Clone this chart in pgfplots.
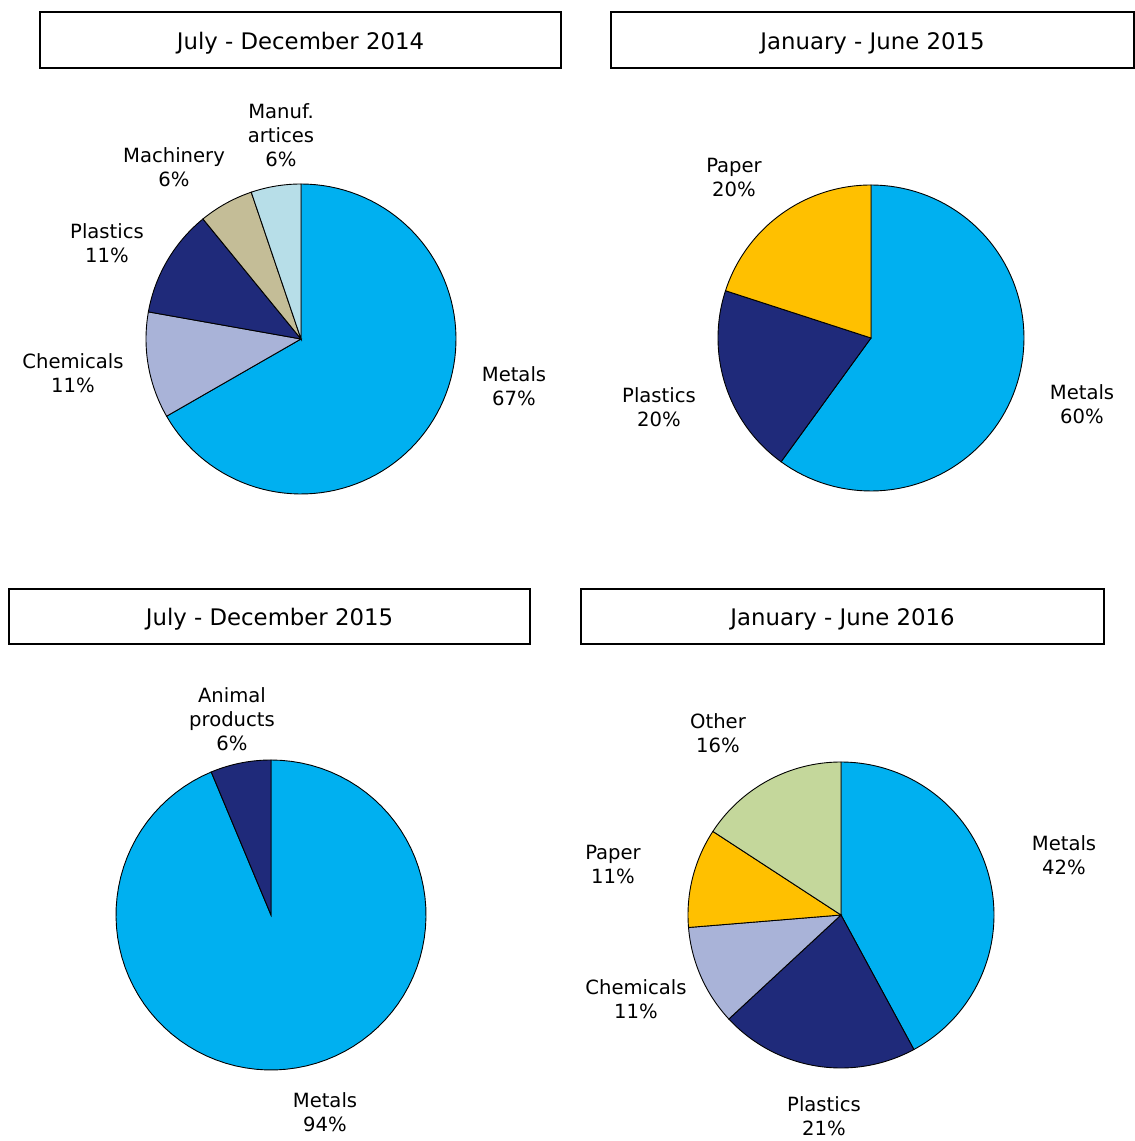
\documentclass[border=0pt]{standalone}
\usepackage{pgfplots}
\pgfplotsset{compat=1.18}
\usepackage{fontspec}
\setmainfont{DejaVu Sans}

\definecolor{metals}{HTML}{00B0F0}
\definecolor{chem}{HTML}{A9B3D8}
\definecolor{plast}{HTML}{1F2A7A}
\definecolor{machin}{HTML}{C4BD97}
\definecolor{manuf}{HTML}{B7DEE8}
\definecolor{paper}{HTML}{FFC000}
\definecolor{other}{HTML}{C4D79B}

\tikzset{lab/.style={font=\fontsize{9.8}{12}\selectfont, align=center}}

% slice of a pie: centre x, centre y, radius, from %, to % (cumulative), colour
% runs clockwise from 12 o'clock
\newcommand{\pieslice}[6]{%
  \addplot[fill=#6, draw=black, line width=0.45pt, domain=#4:#5, samples=90, variable=\t]
    ({#1+#3*cos(90-3.6*\t)},{#2+#3*sin(90-3.6*\t)}) -- (#1,#2) -- cycle;}

\newcommand{\titlebox}[5]{%
  \draw[line width=0.7pt] (#1,#2) rectangle (#3,#4);
  \node[font=\fontsize{11.4}{13}\selectfont] at ({(#1+#3)/2},{(#2+#4)/2-3}) {#5};}

\begin{document}
\begin{tikzpicture}
\begin{axis}[
    scale only axis, width=567.5pt, height=570.5pt,
    xmin=0, xmax=1135, ymin=0, ymax=1141,
    hide axis, clip=false,
  ]
  % July - December 2014
  \pieslice{301}{802}{155}{0}{66.7}{metals}
  \pieslice{301}{802}{155}{66.7}{77.8}{chem}
  \pieslice{301}{802}{155}{77.8}{89.1}{plast}
  \pieslice{301}{802}{155}{89.1}{94.8}{machin}
  \pieslice{301}{802}{155}{94.8}{100}{manuf}
  % January - June 2015
  \pieslice{871}{803}{153}{0}{60}{metals}
  \pieslice{871}{803}{153}{60}{80}{plast}
  \pieslice{871}{803}{153}{80}{100}{paper}
  % July - December 2015
  \pieslice{271}{226}{155}{0}{93.7}{metals}
  \pieslice{271}{226}{155}{93.7}{100}{plast}
  % January - June 2016
  \pieslice{841}{226}{153}{0}{42.1}{metals}
  \pieslice{841}{226}{153}{42.1}{63.1}{plast}
  \pieslice{841}{226}{153}{63.1}{73.7}{chem}
  \pieslice{841}{226}{153}{73.7}{84.2}{paper}
  \pieslice{841}{226}{153}{84.2}{100}{other}

  \titlebox{40}{1073}{561}{1129}{July - December 2014}
  \titlebox{611}{1073}{1134}{1129}{January - June 2015}
  \titlebox{9}{497}{530}{552}{July - December 2015}
  \titlebox{581}{497}{1104}{552}{January - June 2016}

  \node[lab] at (281,1006) {Manuf.\\artices\\6\%};
  \node[lab] at (174,974) {Machinery\\6\%};
  \node[lab] at (107,898) {Plastics\\11\%};
  \node[lab] at (73,768) {Chemicals\\11\%};
  \node[lab] at (514,755) {Metals\\67\%};

  \node[lab] at (734,963) {Paper\\20\%};
  \node[lab] at (659,734) {Plastics\\20\%};
  \node[lab] at (1082,737) {Metals\\60\%};

  \node[lab] at (232,422) {Animal\\products\\6\%};
  \node[lab] at (325,29) {Metals\\94\%};

  \node[lab] at (718,408) {Other\\16\%};
  \node[lab] at (613,277) {Paper\\11\%};
  \node[lab] at (636,142) {Chemicals\\11\%};
  \node[lab] at (824,25) {Plastics\\21\%};
  \node[lab] at (1064,286) {Metals\\42\%};
\end{axis}
\pgfresetboundingbox
\useasboundingbox (current axis.south west) rectangle (current axis.north east);
\end{tikzpicture}
\end{document}
